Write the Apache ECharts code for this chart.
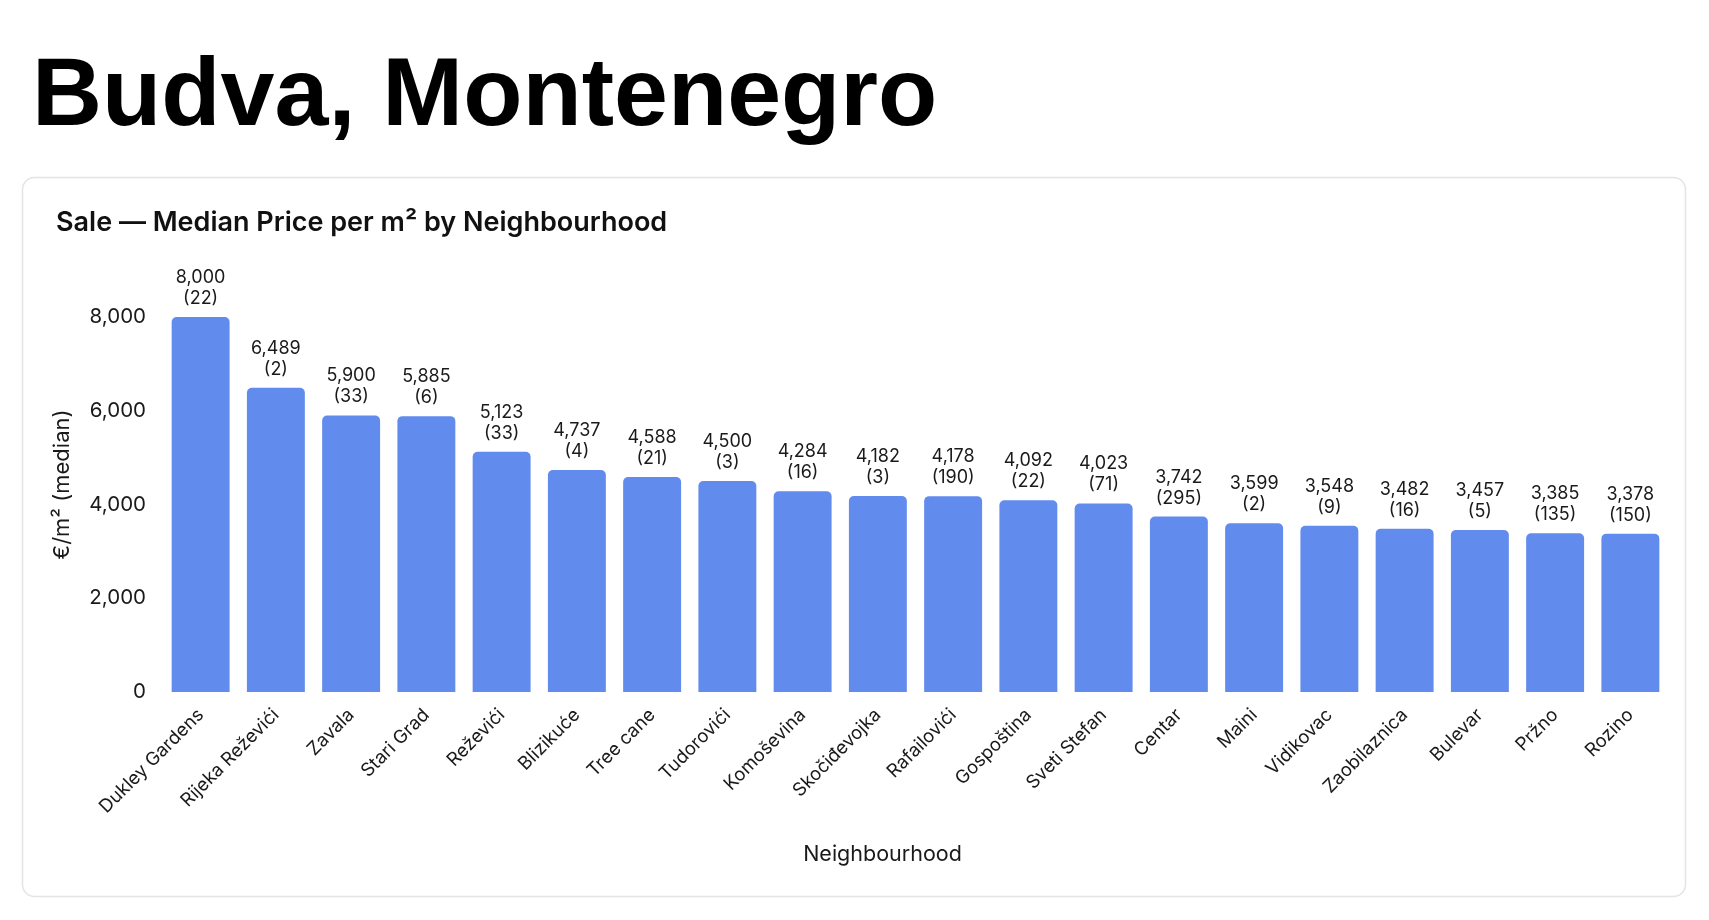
<!DOCTYPE html>
<html>
<head>
<meta charset="utf-8">
<title>Budva, Montenegro</title>
<script src="https://cdn.jsdelivr.net/npm/echarts@6/dist/echarts.min.js"></script>
<style>
  html, body { margin: 0; padding: 0; background: #ffffff; }
  #chart { width: 1709px; height: 920px; }
</style>
</head>
<body>
<div id="chart"></div>
<script>
// neighbourhoods, sorted by median price
var neighbourhoods = ['Dukley Gardens', 'Rijeka Reževići', 'Zavala', 'Stari Grad', 'Reževići',
    'Blizikuće', 'Tree cane', 'Tudorovići', 'Komoševina', 'Skočiđevojka', 'Rafailovići',
    'Gospoština', 'Sveti Stefan', 'Centar', 'Maini', 'Vidikovac', 'Zaobilaznica',
    'Bulevar', 'Pržno', 'Rozino'];
// median €/m²
var medianPrice = [8000, 6489, 5900, 5885, 5123, 4737, 4588, 4500, 4284, 4182, 4178,
    4092, 4023, 3742, 3599, 3548, 3482, 3457, 3385, 3378];
// number of listings
var listingCount = [22, 2, 33, 6, 33, 4, 21, 3, 16, 3, 190, 22, 71, 295, 2, 9, 16, 5, 135, 150];
var yTicks = [0, 2000, 4000, 6000, 8000];

var headFont = '"Liberation Sans", Arial, sans-serif';
var bodyFont = 'Inter, "Noto Sans", sans-serif';
var textColor = '#1a1a1a';

var chart = echarts.init(document.getElementById('chart'));

function fmt(v) {
    return v.toLocaleString('en-US');
}

var option = {
    backgroundColor: '#ffffff',
    animation: false,
    textStyle: { fontFamily: bodyFont },
    graphic: [{
        type: 'rect',
        z: -10,
        shape: { x: 22.5, y: 177.5, width: 1663, height: 719, r: 12 },
        style: { fill: '#ffffff', stroke: '#e4e4e4', lineWidth: 1.5 }
    }],
    title: [{
        text: 'Budva, Montenegro',
        left: 27,
        top: 45,
        textStyle: { fontSize: 97, fontWeight: 'bold', color: '#000000', fontFamily: headFont }
    }, {
        text: 'Sale — Median Price per m² by Neighbourhood',
        left: 51,
        top: 204,
        textStyle: { fontSize: 27, fontWeight: 600, color: '#111111', fontFamily: bodyFont }
    }],
    grid: { left: 163, right: 41, top: 317, bottom: 228 },
    xAxis: {
        type: 'category',
        data: neighbourhoods,
        name: 'Neighbourhood',
        nameLocation: 'middle',
        nameGap: 152,
        nameTextStyle: { fontSize: 21.5, color: textColor, padding: [0, 66, 0, 0] },
        axisLine: { show: false },
        axisTick: { show: false },
        axisLabel: { rotate: 45, fontSize: 18.5, color: textColor, margin: 20, interval: 0 }
    },
    yAxis: {
        type: 'value',
        min: 0,
        max: 8000,
        interval: 2000,
        name: '€/m² (median)',
        nameLocation: 'middle',
        nameGap: 90,
        nameTextStyle: { fontSize: 22, color: textColor, padding: [0, 0, 0, 40] },
        axisLine: { show: false },
        axisTick: { show: false },
        splitLine: { show: false },
        axisLabel: {
            fontSize: 20.5,
            color: textColor,
            margin: 17,
            formatter: function (v) { return yTicks.indexOf(v) >= 0 ? fmt(v) : ''; }
        }
    },
    series: [{
        type: 'bar',
        data: medianPrice,
        barCategoryGap: '23%',
        itemStyle: { color: '#628bee', borderRadius: [5, 5, 0, 0] },
        label: {
            show: true,
            position: 'top',
            distance: 8,
            fontSize: 18,
            lineHeight: 21,
            color: textColor,
            formatter: function (p) {
                return fmt(p.value) + '\n(' + listingCount[p.dataIndex] + ')';
            }
        }
    }]
};

chart.setOption(option);
</script>
</body>
</html>
